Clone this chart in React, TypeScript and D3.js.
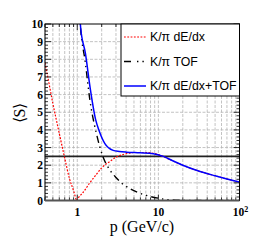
import React from "react";
import * as d3 from "d3";

const W = 266, H = 242;
const M = { left: 45, right: 239.5, top: 24, bottom: 200.5 };

// K/pi dE/dx separation (falling then rising branch)
const dedxLowP = [0.4, 0.45, 0.5, 0.55, 0.6, 0.7, 0.8, 0.9, 0.975];
const dedxLowS = [7.8, 6.6, 5.5, 4.6, 3.8, 2.4, 1.25, 0.55, 0];
const dedxHighP = [0.975, 1.05, 1.2, 1.4, 1.7, 2.0, 2.5, 3.0, 4.0, 5.0, 7.0, 10, 12, 15, 20, 30, 50, 70, 100];
const dedxHighS = [0, 0.2, 0.5, 0.95, 1.45, 1.85, 2.2, 2.45, 2.65, 2.72, 2.72, 2.6, 2.45, 2.25, 2.0, 1.7, 1.4, 1.22, 1.04];

// K/pi TOF separation
const tofP = [1.05, 1.1, 1.25, 1.43, 1.72, 2.08, 2.5, 3.0, 3.5, 4.7, 7.2, 10, 13, 20, 30, 100];
const tofS = [11, 9.7, 7.9, 5.7, 3.8, 2.46, 1.75, 1.3, 1.0, 0.62, 0.28, 0.13, 0.05, 0.01, 0, 0];

// combined
const combP = [1.05, 1.1, 1.26, 1.45, 1.69, 1.85, 2.19, 2.77, 3.3, 4.05, 5.9, 8.66, 11.5, 15, 20, 30, 50, 70, 100];
const combS = [11, 9.8, 8.33, 6.3, 4.55, 3.98, 3.22, 2.84, 2.78, 2.74, 2.7, 2.65, 2.5, 2.25, 2.0, 1.7, 1.4, 1.22, 1.04];

const xMajor = [1, 10, 100];
const xLabels = ["1", "10", "10²"];
const yTicks = [0, 1, 2, 3, 4, 5, 6, 7, 8, 9, 10];
const cutLevel = 2.5;

const legendItems = ["K/π dE/dx", "K/π TOF", "K/π dE/dx+TOF"];

export default function App() {
  const x = d3.scaleLog().domain([0.4, 100]).range([M.left, M.right]);
  const y = d3.scaleLinear().domain([0, 10]).range([M.bottom, M.top]);

  const mk = (ps: number[], ss: number[]) =>
    d3.line<number>().x((_, i) => x(ps[i])).y((v) => y(v)).curve(d3.curveMonotoneX)(ss) || "";

  const minorX: number[] = [];
  [0.1, 1, 10].forEach((dec) => {
    for (let k = 1; k <= 9; k++) {
      const v = dec * k;
      if (v >= 0.4 && v <= 100) minorX.push(v);
    }
  });
  const minorY: number[] = d3.range(0, 10.001, 0.2).map((v) => +v.toFixed(2));

  const tickFont = "'Liberation Serif', serif";
  const gridStyle = { stroke: "#b4b4b4", strokeWidth: 0.8, strokeDasharray: "3,1.5" };

  return (
    <svg width={W} height={H} style={{ position: "absolute", left: 0, top: 0, background: "#fff" }}>
      <defs>
        <clipPath id="plot">
          <rect x={M.left} y={M.top} width={M.right - M.left} height={M.bottom - M.top} />
        </clipPath>
      </defs>
      <rect x={0} y={0} width={W} height={H} fill="#fff" />
      {/* grid */}
      {minorX.map((v) => (
        <line key={"gx" + v} x1={x(v)} x2={x(v)} y1={M.top} y2={M.bottom} {...gridStyle} />
      ))}
      {yTicks.slice(1, -1).map((v) => (
        <line key={"gy" + v} x1={M.left} x2={M.right} y1={y(v)} y2={y(v)} {...gridStyle} />
      ))}
      {/* cut line */}
      <line x1={M.left} x2={M.right} y1={y(cutLevel)} y2={y(cutLevel)} stroke="#222" strokeWidth={1.8} />
      {/* curves */}
      <g clipPath="url(#plot)" fill="none">
        <path d={mk(dedxLowP, dedxLowS)} stroke="#ff0000" strokeWidth={1.2} strokeDasharray="1.8,1.5" />
        <path d={mk(dedxHighP, dedxHighS)} stroke="#ff0000" strokeWidth={1.2} strokeDasharray="1.8,1.5" />
        <path d={mk(tofP, tofS)} stroke="#000" strokeWidth={1.4} strokeDasharray="7,4,1.4,4,1.4,4" />
        <path d={mk(combP, combS)} stroke="#0000ff" strokeWidth={1.5} />
      </g>
      {/* ticks */}
      {minorY.map((v) => {
        const major = Math.abs(v - Math.round(v)) < 1e-6;
        const len = major ? 6 : 3;
        return (
          <g key={"ty" + v}>
            <line x1={M.left} x2={M.left + len} y1={y(v)} y2={y(v)} stroke="#000" strokeWidth={0.8} />
            <line x1={M.right} x2={M.right - len} y1={y(v)} y2={y(v)} stroke="#000" strokeWidth={0.8} />
          </g>
        );
      })}
      {minorX.map((v) => {
        const major = xMajor.includes(v);
        const len = major ? 6 : 3;
        return (
          <g key={"tx" + v}>
            <line x1={x(v)} x2={x(v)} y1={M.bottom} y2={M.bottom - len} stroke="#000" strokeWidth={0.8} />
            <line x1={x(v)} x2={x(v)} y1={M.top} y2={M.top + len} stroke="#000" strokeWidth={0.8} />
          </g>
        );
      })}
      {/* frame */}
      <rect x={M.left} y={M.top} width={M.right - M.left} height={M.bottom - M.top} fill="none" stroke="#000" strokeWidth={1} />
      <line x1={M.left} x2={M.right} y1={M.bottom} y2={M.bottom} stroke="#555" strokeWidth={2} />
      {/* y labels */}
      {yTicks.map((v) => (
        <text key={"ly" + v} x={M.left - 2} y={y(v)} dy="0.35em" textAnchor="end" fontFamily={tickFont} fontWeight="bold" fontSize={11.5}>
          {v}
        </text>
      ))}
      {/* x labels */}
      {xMajor.map((v, i) => (
        <text key={"lx" + v} x={x(v) + (i === 2 ? 1 : 0)} y={216} textAnchor="middle" fontFamily={tickFont} fontWeight="bold" fontSize={11.5}>
          {i === 2 ? (
            <>
              10<tspan dy={-4} fontSize={8}>2</tspan>
            </>
          ) : (
            xLabels[i]
          )}
        </text>
      ))}
      {/* axis titles */}
      <text x={142} y={232} textAnchor="middle" fontFamily={tickFont} fontSize={16}>
        p (GeV/c)
      </text>
      <text transform="translate(25,113) rotate(-90)" textAnchor="middle" fontFamily={tickFont} fontSize={16}>
        ⟨S⟩
      </text>
      {/* legend */}
      <rect x={121} y={M.top} width={M.right - 121} height={72} fill="#fff" stroke="#000" strokeWidth={1} />
      {legendItems.map((t, i) => {
        const ly = 37 + i * 24.5;
        const style =
          i === 0
            ? { stroke: "#ff0000", strokeWidth: 1.2, strokeDasharray: "1.8,1.5" }
            : i === 1
            ? { stroke: "#000", strokeWidth: 1.4, strokeDasharray: "7,6,1.4,4,1.4,4" }
            : { stroke: "#0000ff", strokeWidth: 1.5 };
        return (
          <g key={t}>
            <line x1={124} x2={146} y1={ly} y2={ly} {...style} />
            <text x={150} y={ly} dy="0.35em" fontFamily="'Liberation Sans', Arial, sans-serif" fontSize={12.3}>
              {t}
            </text>
          </g>
        );
      })}
    </svg>
  );
}
